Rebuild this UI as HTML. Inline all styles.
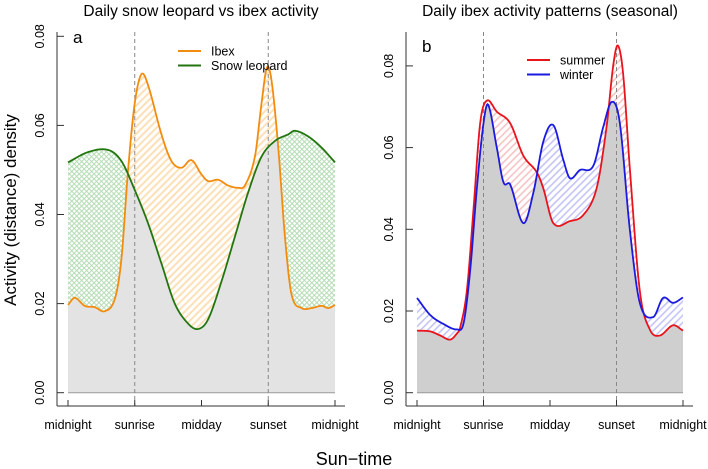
<!DOCTYPE html>
<html><head><meta charset="utf-8"><style>
body{margin:0;background:#fff;}
svg{display:block;font-family:"Liberation Sans",Arial,sans-serif;}
</style></head><body>
<svg id="chart" width="708" height="469" viewBox="0 0 708 469">
<defs>
<pattern id="pOr" width="5" height="5" patternUnits="userSpaceOnUse" patternTransform="rotate(45)"><rect width="5" height="5" fill="#fff"/><rect width="2" height="5" fill="#fde0b8"/></pattern>
<pattern id="pGr" width="3.5" height="3.5" patternUnits="userSpaceOnUse" patternTransform="rotate(45)"><rect width="3.5" height="3.5" fill="#fff"/><rect width="1" height="3.5" fill="#b5dcb5"/><rect width="3.5" height="1" fill="#b5dcb5"/></pattern>
<pattern id="pRd" width="5" height="5" patternUnits="userSpaceOnUse" patternTransform="rotate(45)"><rect width="5" height="5" fill="#fff"/><rect width="1.6" height="5" fill="#f6c4c4"/></pattern>
<pattern id="pBl" width="5" height="5" patternUnits="userSpaceOnUse" patternTransform="rotate(45)"><rect width="5" height="5" fill="#fff"/><rect width="1.6" height="5" fill="#c4c4f6"/></pattern>
</defs>
<text x="201" y="16" font-size="15.5" text-anchor="middle">Daily snow leopard vs ibex activity</text>
<text x="550" y="16" font-size="15.5" text-anchor="middle">Daily ibex activity patterns (seasonal)</text>
<text transform="translate(16,210) rotate(-90)" font-size="17" text-anchor="middle">Activity (distance) density</text>
<text x="354" y="465" font-size="18" text-anchor="middle">Sun−time</text>
<g id="pa"></g>
<g id="pb"></g>
</svg>
<script>
const xTickLabels=["midnight","sunrise","midday","sunset","midnight"];
const yTicksA=[0,0.02,0.04,0.06,0.08];
const yTicksB=[0,0.02,0.04,0.06,0.08];
const ibexX=[0,0.1,0.25,0.4,0.55,0.7,0.8,0.9,1.0,1.1,1.2,1.4,1.55,1.7,1.85,2.0,2.1,2.25,2.4,2.55,2.65,2.8,2.9,2.98,3.05,3.15,3.25,3.35,3.5,3.65,3.8,3.9,4.0];
const ibexY=[0.0197,0.0213,0.0195,0.0192,0.0183,0.021,0.030,0.050,0.065,0.0715,0.069,0.058,0.052,0.0505,0.0522,0.049,0.0475,0.0478,0.0465,0.046,0.0465,0.053,0.065,0.073,0.070,0.055,0.035,0.022,0.019,0.019,0.0195,0.019,0.0197];
const leoX=[0,0.3,0.6,0.8,1.0,1.2,1.4,1.6,1.8,1.95,2.1,2.3,2.5,2.7,2.9,3.1,3.3,3.4,3.6,3.8,4.0];
const leoY=[0.0517,0.054,0.0545,0.052,0.0455,0.038,0.029,0.020,0.0155,0.0143,0.0165,0.025,0.035,0.045,0.053,0.0565,0.058,0.0588,0.0575,0.055,0.0517];
const sumX=[0,0.2,0.35,0.5,0.6,0.65,0.75,0.85,0.95,1.05,1.2,1.4,1.6,1.8,1.9,2.05,2.3,2.5,2.7,2.85,2.95,3.02,3.1,3.2,3.35,3.5,3.65,3.85,4.0];
const sumY=[0.0152,0.015,0.014,0.013,0.0145,0.016,0.025,0.045,0.066,0.0715,0.0688,0.066,0.058,0.054,0.050,0.0415,0.042,0.0435,0.050,0.065,0.080,0.085,0.078,0.055,0.025,0.0155,0.014,0.0165,0.0152];
const winX=[0,0.2,0.4,0.6,0.7,0.8,0.9,1.0,1.07,1.2,1.3,1.4,1.6,1.75,1.9,2.05,2.2,2.3,2.45,2.65,2.8,2.93,3.05,3.2,3.35,3.55,3.7,3.85,4.0];
const winY=[0.0232,0.019,0.0168,0.0155,0.017,0.030,0.050,0.066,0.0705,0.060,0.0515,0.051,0.0415,0.049,0.0615,0.0655,0.057,0.0525,0.0545,0.0555,0.065,0.0712,0.066,0.040,0.022,0.0185,0.0232,0.022,0.0233];

const NS="http://www.w3.org/2000/svg";
function mk(p,t,a){const e=document.createElementNS(NS,t);for(const k in a)e.setAttribute(k,a[k]);p.appendChild(e);return e;}
function interp(xs,ys,x){
  let i=0;while(i<xs.length-2&&x>xs[i+1])i++;
  const x0=xs[i],x1=xs[i+1],h=x1-x0,t=(x-x0)/h;
  const sl=j=>{if(j<=0)return (ys[1]-ys[0])/(xs[1]-xs[0]);if(j>=xs.length-1){const n=xs.length-1;return (ys[n]-ys[n-1])/(xs[n]-xs[n-1]);}return (ys[j+1]-ys[j-1])/(xs[j+1]-xs[j-1]);};
  const m0=sl(i)*h,m1=sl(i+1)*h,t2=t*t,t3=t2*t;
  return (2*t3-3*t2+1)*ys[i]+(t3-2*t2+t)*m0+(-2*t3+3*t2)*ys[i+1]+(t3-t2)*m1;
}
function panel(g,cfg){
  const X=u=>cfg.x0+u*cfg.dx, Y=v=>cfg.y0-v*cfg.k;
  const N=400,grid=[];for(let i=0;i<=N;i++)grid.push(4*i/N);
  const A=grid.map(u=>interp(cfg.ax,cfg.ay,u)), B=grid.map(u=>interp(cfg.bx,cfg.by,u));
  const line=arr=>grid.map((u,i)=>(i?'L':'M')+X(u).toFixed(2)+','+Y(arr[i]).toFixed(2)).join('');
  const area=arr=>line(arr)+'L'+X(4)+','+Y(0)+'L'+X(0)+','+Y(0)+'Z';
  const id=cfg.id;
  const cpA=mk(g,'clipPath',{id:id+'aboveB'});mk(cpA,'path',{d:line(B)+'L'+X(4)+',0L'+X(0)+',0Z'});
  const cpB=mk(g,'clipPath',{id:id+'aboveA'});mk(cpB,'path',{d:line(A)+'L'+X(4)+',0L'+X(0)+',0Z'});
  const fa=mk(g,'path',{d:area(A),fill:'url(#'+cfg.pa+')','clip-path':'url(#'+id+'aboveB)'});
  
  const fb=mk(g,'path',{d:area(B),fill:'url(#'+cfg.pb+')','clip-path':'url(#'+id+'aboveA)'});
  
  const mn=A.map((v,i)=>Math.min(v,B[i]));
  const ov=mk(g,'path',{d:area(mn),fill:cfg.grey});
  
  const z=mk(g,'line',{x1:X(0),x2:X(4),y1:Y(0),y2:Y(0),stroke:'#999','stroke-width':1});
  
  [1,3].forEach(u=>{const d=mk(g,'line',{x1:X(u),x2:X(u),y1:32,y2:406,stroke:'#888','stroke-dasharray':'4,3','stroke-width':1});
    });
  const la=mk(g,'path',{d:line(A),fill:'none',stroke:cfg.ca,'stroke-width':1.8});
  
  const lb=mk(g,'path',{d:line(B),fill:'none',stroke:cfg.cb,'stroke-width':1.8});
  
  const ya=mk(g,'line',{x1:cfg.ax0,x2:cfg.ax0,y1:32,y2:406,stroke:'#333'});
  
  const xa=mk(g,'line',{x1:cfg.ax0,x2:X(4)+10,y1:406,y2:406,stroke:'#333'});
  
  cfg.yt.forEach(v=>{mk(g,'line',{x1:cfg.ax0,x2:cfg.ax0+7,y1:Y(v),y2:Y(v),stroke:'#333'});
    const t=mk(g,'text',{transform:'translate('+(cfg.ax0-13)+','+Y(v)+') rotate(-90)','font-size':12.5,'text-anchor':'middle'});
    t.textContent=v.toFixed(2);});
  xTickLabels.forEach((s,i)=>{mk(g,'line',{x1:X(i),x2:X(i),y1:400,y2:406,stroke:'#333'});
    const t=mk(g,'text',{x:X(i),y:429,'font-size':12.5,'text-anchor':'middle'});
    t.textContent=s;});
  const lt=mk(g,'text',{x:cfg.lx,y:cfg.ly,'font-size':17});lt.textContent=cfg.letter;
  
  [[cfg.ca,cfg.la],[cfg.cb,cfg.lbl]].forEach((e,i)=>{const yy=cfg.legy+i*14.5;
    mk(g,'line',{x1:cfg.legx,x2:cfg.legx+23,y1:yy,y2:yy,stroke:e[0],'stroke-width':2});
    const t=mk(g,'text',{x:cfg.legx+33,y:yy+4.5,'font-size':12.5});t.textContent=e[1];
    });
}
panel(document.getElementById('pa'),{id:'a',x0:68,dx:66.75,y0:392.7,k:89.1/0.02,ax:ibexX,ay:ibexY,bx:leoX,by:leoY,
  pa:'pOr',pb:'pGr',grey:'#e3e3e3',ca:'#f28c0f',cb:'#23760f',na:'ibex',nb:'snow-leopard',ax0:57,yt:yTicksA,
  lx:73,ly:43,letter:'a',legx:178,legy:51,la:'Ibex',lbl:'Snow leopard'});
panel(document.getElementById('pb'),{id:'b',x0:417,dx:66.5,y0:392.7,k:81.7/0.02,ax:sumX,ay:sumY,bx:winX,by:winY,
  pa:'pRd',pb:'pBl',grey:'#cfcfcf',ca:'#e8141c',cb:'#1a1ae0',na:'summer',nb:'winter',ax0:406,yt:yTicksB,
  lx:422,ly:52,letter:'b',legx:527,legy:60,la:'summer',lbl:'winter'});
</script>
</body></html>
